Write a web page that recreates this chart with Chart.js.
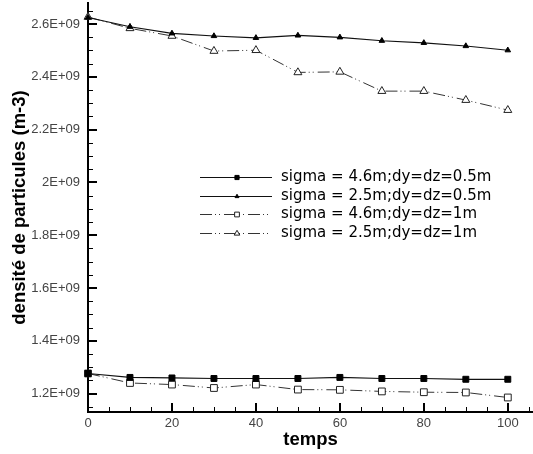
<!DOCTYPE html>
<html>
<head>
<meta charset="utf-8">
<script src="https://cdn.jsdelivr.net/npm/chart.js@4/dist/chart.umd.min.js"></script>
<style>
  html, body { margin: 0; padding: 0; background: #fff; overflow: hidden; }
  #wrap { width: 533px; height: 454px; position: relative; }
</style>
</head>
<body>
<div id="wrap"><canvas id="densiteChart"></canvas></div>
<script>
// temps (axe x)
const temps = [0, 10, 20, 30, 40, 50, 60, 70, 80, 90, 100];

// densité de particules (m-3)
const sigma46_dy05 = [1.276e9, 1.261e9, 1.259e9, 1.257e9, 1.257e9, 1.257e9, 1.261e9, 1.257e9, 1.257e9, 1.254e9, 1.254e9];
const sigma25_dy05 = [2.625e9, 2.59e9, 2.565e9, 2.555e9, 2.548e9, 2.557e9, 2.55e9, 2.537e9, 2.529e9, 2.517e9, 2.501e9];
const sigma46_dy1  = [1.276e9, 1.240e9, 1.234e9, 1.221e9, 1.234e9, 1.215e9, 1.214e9, 1.208e9, 1.205e9, 1.204e9, 1.185e9];
const sigma25_dy1  = [2.627e9, 2.584e9, 2.555e9, 2.498e9, 2.501e9, 2.417e9, 2.419e9, 2.346e9, 2.346e9, 2.312e9, 2.274e9];

const seriesLabels = [
  'sigma = 4.6m;dy=dz=0.5m',
  'sigma = 2.5m;dy=dz=0.5m',
  'sigma = 4.6m;dy=dz=1m',
  'sigma = 2.5m;dy=dz=1m'
];

// graduations
const xTicks = [0, 20, 40, 60, 80, 100];
const yTicks = [1.2e9, 1.4e9, 1.6e9, 1.8e9, 2.0e9, 2.2e9, 2.4e9, 2.6e9];
const yTickLabels = ['1.2E+09', '1.4E+09', '1.6E+09', '1.8E+09', '2E+09', '2.2E+09', '2.4E+09', '2.6E+09'];

const toPoints = arr => arr.map((v, i) => ({ x: temps[i], y: v }));

const dashDot = [12, 3, 1, 3, 1, 4]; // tiret-point-point

const datasets = [
  { label: seriesLabels[0], data: toPoints(sigma46_dy05), borderColor: '#111', borderWidth: 1.2,
    pointStyle: 'rect', pointRadius: 4.2, pointBackgroundColor: '#000', pointBorderColor: '#000', pointBorderWidth: 1 },
  { label: seriesLabels[1], data: toPoints(sigma25_dy05), borderColor: '#111', borderWidth: 1.2,
    pointStyle: 'triangle', pointRadius: 3.2, pointBackgroundColor: '#000', pointBorderColor: '#000', pointBorderWidth: 1 },
  { label: seriesLabels[2], data: toPoints(sigma46_dy1), borderColor: '#333', borderWidth: 1, borderDash: dashDot,
    pointStyle: 'rect', pointRadius: 4.8, pointBackgroundColor: '#fff', pointBorderColor: '#222', pointBorderWidth: 1 },
  { label: seriesLabels[3], data: toPoints(sigma25_dy1), borderColor: '#333', borderWidth: 1, borderDash: dashDot,
    pointStyle: 'triangle', pointRadius: 4.6, pointBackgroundColor: '#fff', pointBorderColor: '#222', pointBorderWidth: 1 }
];
datasets.forEach(d => { d.fill = false; d.tension = 0; d.clip = false; });

// graduations intérieures (majeures + mineures)
const axisTicks = {
  id: 'axisTicks',
  afterDatasetsDraw(chart) {
    const { ctx, chartArea, scales: { x, y } } = chart;
    ctx.save();
    ctx.strokeStyle = '#000';
    for (let k = 0; k <= 21; k++) {
      const major = k % 4 === 0;
      const px = Math.round(x.getPixelForValue(k * 5)) + (major ? 0 : 0.5);
      ctx.lineWidth = major ? 2 : 1;
      ctx.beginPath();
      ctx.moveTo(px, chartArea.bottom);
      ctx.lineTo(px, chartArea.bottom - (major ? 9 : 5));
      ctx.stroke();
    }
    for (let k = 23; k <= 53; k++) {
      const major = k % 4 === 0;
      const py = Math.round(y.getPixelForValue(k * 0.05e9)) + (major ? 0 : 0.5);
      ctx.lineWidth = major ? 2 : 1;
      ctx.beginPath();
      ctx.moveTo(chartArea.left, py);
      ctx.lineTo(chartArea.left + (major ? 9 : 5), py);
      ctx.stroke();
    }
    ctx.restore();
  }
};

// légende dessinée dans le graphique
const insideLegend = {
  id: 'insideLegend',
  afterDraw(chart) {
    const ctx = chart.ctx;
    const x0 = 200, x1 = 272, xm = 237, xt = 281;
    const top = 177, step = 18.7;
    chart.data.datasets.forEach((ds, i) => {
      const yy = Math.round(top + i * step) + 0.5;
      ctx.save();
      ctx.strokeStyle = ds.borderColor;
      ctx.lineWidth = 1;
      ctx.setLineDash(ds.borderDash || []);
      ctx.beginPath();
      ctx.moveTo(x0, yy);
      ctx.lineTo(x1, yy);
      ctx.stroke();
      ctx.setLineDash([]);
      ctx.fillStyle = ds.pointBackgroundColor;
      ctx.strokeStyle = ds.pointBorderColor;
      Chart.helpers.drawPoint(ctx, { pointStyle: ds.pointStyle, radius: ds.pointRadius * 0.7, borderWidth: 1 }, xm, yy);
      ctx.fillStyle = '#000';
      ctx.font = '15px "DejaVu Sans"';
      ctx.textBaseline = 'middle';
      ctx.fillText(ds.label, xt, yy);
      ctx.restore();
    });
  }
};

const chart = new Chart(document.getElementById('densiteChart'), {
  type: 'line',
  data: { datasets },
  options: {
    responsive: true,
    maintainAspectRatio: false,
    animation: false,
    layout: { autoPadding: false, padding: { top: 3, right: 0, left: 0, bottom: 0 } },
    plugins: { legend: { display: false }, tooltip: { enabled: false } },
    scales: {
      x: {
        type: 'linear', min: 0, max: 106,
        grid: { display: false, drawTicks: false },
        border: { display: true, color: '#000', width: 2 },
        afterBuildTicks: s => { s.ticks = xTicks.map(v => ({ value: v })); },
        afterFit: s => { s.height = 42; s.paddingLeft = 0; s.paddingRight = 0; },
        ticks: { autoSkip: false, maxRotation: 0, padding: 4, color: '#444',
                 font: { family: '"Liberation Sans"', size: 13 } },
        title: { display: true, text: 'temps', color: '#000', padding: { top: 0, bottom: 3 },
                 font: { family: '"Liberation Sans"', size: 18.5, weight: 'bold' } }
      },
      y: {
        type: 'linear', min: 1.13e9, max: 2.68e9,
        grid: { display: false, drawTicks: false },
        border: { display: true, color: '#000', width: 2 },
        afterBuildTicks: s => { s.ticks = yTicks.map(v => ({ value: v })); },
        afterFit: s => { s.width = 88; s.paddingTop = 0; s.paddingBottom = 0; },
        ticks: { padding: 8, color: '#444', callback: (v, i) => yTickLabels[i],
                 font: { family: '"Liberation Sans"', size: 13 } },
        title: { display: true, text: 'densité de particules (m-3)', color: '#000',
                 padding: { top: 9, bottom: 0 },
                 font: { family: '"Liberation Sans"', size: 18.5, weight: 'bold' } }
      }
    }
  },
  plugins: [axisTicks, insideLegend]
});
</script>
</body>
</html>
